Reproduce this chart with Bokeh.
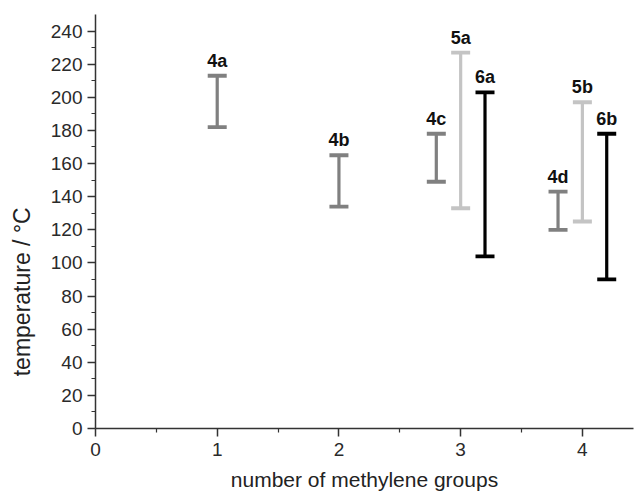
from bokeh.plotting import figure
from bokeh.models import ColumnDataSource, Whisker, TeeHead, FixedTicker, Range1d
from bokeh.core.properties import value
from bokeh.embed import file_html
from bokeh.resources import INLINE

# Data
compounds_4 = ["4a", "4b", "4c", "4d"]
x_4 = [1.0, 2.0, 2.8, 3.8]
low_4 = [182, 134, 149, 120]
high_4 = [213, 165, 178, 143]

compounds_5 = ["5a", "5b"]
x_5 = [3.0, 4.0]
low_5 = [133, 125]
high_5 = [227, 197]

compounds_6 = ["6a", "6b"]
x_6 = [3.2, 4.2]
low_6 = [104, 90]
high_6 = [203, 178]

y_ticks = list(range(0, 241, 20))
y_minor = list(range(10, 250, 20))
x_ticks = [0, 1, 2, 3, 4]
x_minor = [0.5, 1.5, 2.5, 3.5]

FONT = "Liberation Sans"
AXIS_COLOR = "#333333"

p = figure(width=636, height=498, output_backend="svg", toolbar_location=None,
           x_range=Range1d(0, 4.42), y_range=Range1d(0, 250),
           min_border_left=95, min_border_top=14, min_border_right=3,
           min_border_bottom=70)
p.outline_line_color = None
p.xgrid.visible = False
p.ygrid.visible = False
p.background_fill_color = "white"
p.border_fill_color = "white"

groups = [
    (compounds_4, x_4, low_4, high_4, "#808080"),
    (compounds_5, x_5, low_5, high_5, "#c4c4c4"),
    (compounds_6, x_6, low_6, high_6, "#000000"),
]

for names, xs, lows, highs, color in groups:
    src = ColumnDataSource(dict(x=xs, lower=lows, upper=highs, name=names))
    w = Whisker(base="x", lower="lower", upper="upper", source=src,
                dimension="height", line_color=color, line_width=3.2,
                upper_head=TeeHead(size=19, line_color=color, line_width=3.8),
                lower_head=TeeHead(size=19, line_color=color, line_width=3.8))
    p.add_layout(w)
    p.text(x="x", y="upper", text="name", source=src,
           text_font=value(FONT), text_font_size="18px", text_font_style="bold",
           text_color="#111111", text_align="center", text_baseline="bottom",
           y_offset=-5)

for ax in (p.xaxis[0], p.yaxis[0]):
    ax.axis_line_color = AXIS_COLOR
    ax.axis_line_width = 1.5
    ax.major_tick_line_color = AXIS_COLOR
    ax.major_tick_line_width = 1.5
    ax.minor_tick_line_color = AXIS_COLOR
    ax.minor_tick_line_width = 1.2
    ax.major_tick_in = 0
    ax.major_tick_out = 8
    ax.minor_tick_in = 0
    ax.minor_tick_out = 4
    ax.major_label_text_font = FONT
    ax.major_label_text_font_size = "19px"
    ax.major_label_text_color = "#2a2a2a"
    ax.axis_label_text_font = FONT
    ax.axis_label_text_font_style = "normal"
    ax.axis_label_text_color = "#222222"

p.yaxis[0].ticker = FixedTicker(ticks=y_ticks, minor_ticks=y_minor)
p.xaxis[0].ticker = FixedTicker(ticks=x_ticks, minor_ticks=x_minor)
p.yaxis[0].major_label_standoff = 5
p.xaxis[0].major_label_standoff = 6
# trailing no-break spaces shift the rotated title down, as in the reference
p.yaxis[0].axis_label = "temperature / °C" + "\u00a0" * 22
p.xaxis[0].axis_label = "number of methylene groups"
p.yaxis[0].axis_label_text_font_size = "23px"
p.xaxis[0].axis_label_text_font_size = "21px"
p.yaxis[0].axis_label_standoff = 13
p.xaxis[0].axis_label_standoff = 9

open("out.html", "w").write(file_html(p, INLINE))
